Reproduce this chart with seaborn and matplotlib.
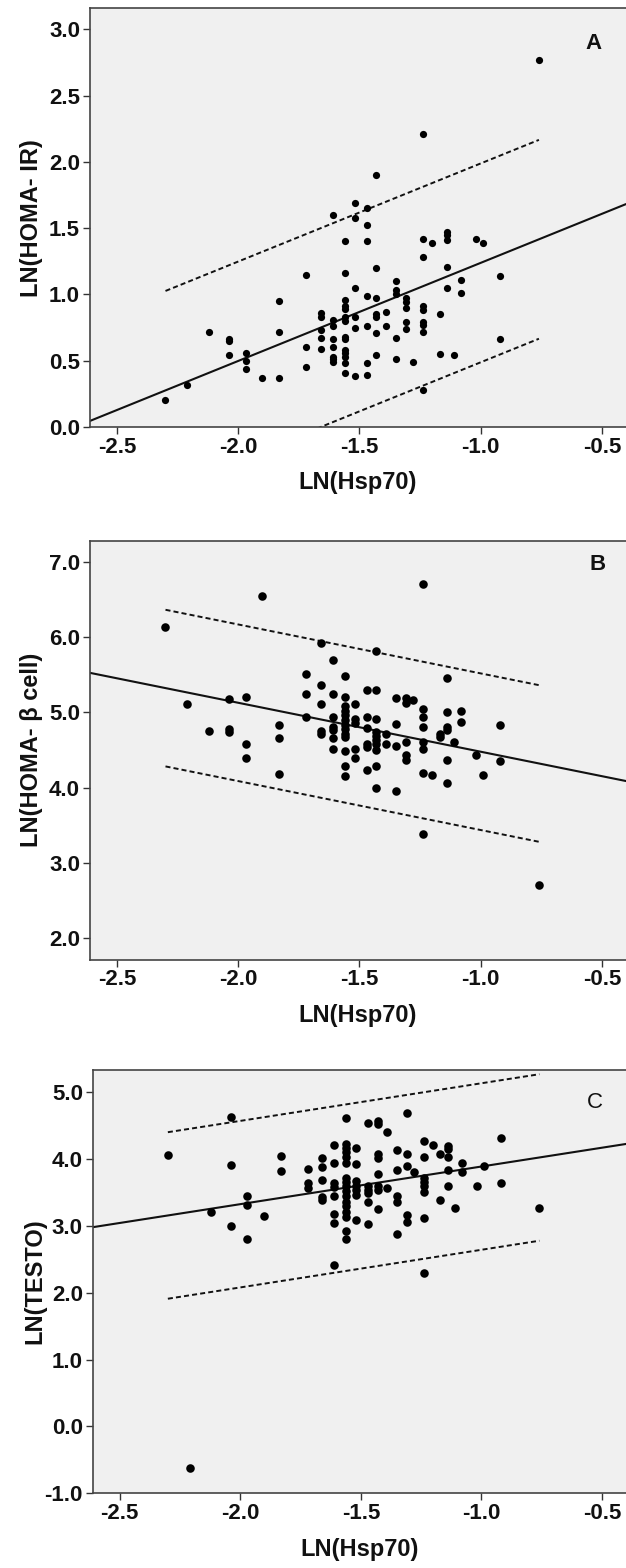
"""Scatter plots of LN(Hsp70) against HOMA-IR, HOMA-beta cell and testosterone"""

import pandas as pd
import seaborn as sns
import matplotlib

matplotlib.use("Agg")
import matplotlib.pyplot as plt

sns.set_theme(style="ticks")
plt.rcParams["font.family"] = ["Liberation Sans", "DejaVu Sans"]
plt.rcParams["axes.unicode_minus"] = False

# LN(Hsp70) values (the x values are discrete)
hsp70_levels = [-2.30, -2.21, -2.12, -2.04, -1.97, -1.90, -1.83, -1.72, -1.66, -1.61,
                -1.56, -1.52, -1.47, -1.43, -1.39, -1.35, -1.31, -1.28, -1.24, -1.20,
                -1.17, -1.14, -1.11, -1.08, -1.02, -0.99, -0.92, -0.76]

# y values found at each Hsp70 level
homa_ir = [
    [0.20], [0.32], [0.72], [0.66, 0.645, 0.54], [0.56, 0.50, 0.44], [0.37],
    [0.95, 0.72, 0.37], [1.15, 0.60, 0.45], [0.86, 0.83, 0.73, 0.67, 0.59],
    [1.60, 0.81, 0.76, 0.66, 0.60, 0.53, 0.51, 0.49],
    [1.40, 1.16, 0.96, 0.91, 0.89, 0.83, 0.80, 0.68, 0.66, 0.58, 0.56, 0.53, 0.48, 0.41],
    [1.69, 1.58, 1.05, 0.83, 0.75, 0.385], [1.65, 1.52, 1.40, 0.99, 0.76, 0.485, 0.39],
    [1.90, 1.20, 0.97, 0.85, 0.83, 0.71, 0.54], [0.87, 0.76], [1.10, 1.03, 1.00, 0.67, 0.51],
    [0.97, 0.945, 0.895, 0.79, 0.74], [0.49],
    [2.21, 1.42, 1.28, 0.915, 0.88, 0.79, 0.77, 0.72, 0.28], [1.39], [0.85, 0.55],
    [1.47, 1.45, 1.41, 1.21, 1.05], [0.54], [1.11, 1.01], [1.42], [1.39], [1.14, 0.66], [2.77],
]

homa_beta = [
    [6.13], [5.11], [4.76], [5.18, 4.78, 4.74], [5.20, 4.58, 4.39], [6.55],
    [4.83, 4.66, 4.18], [5.51, 5.25, 4.94], [5.92, 5.36, 5.11, 4.76, 4.72],
    [5.70, 5.25, 4.94, 4.81, 4.77, 4.66, 4.51],
    [5.49, 5.21, 5.08, 5.02, 4.96, 4.90, 4.84, 4.78, 4.72, 4.68, 4.49, 4.29, 4.15],
    [5.11, 4.91, 4.86, 4.52, 4.39], [5.30, 4.94, 4.79, 4.58, 4.54, 4.24],
    [5.82, 5.30, 4.91, 4.74, 4.69, 4.64, 4.58, 4.50, 4.29, 4.00], [4.71, 4.58],
    [5.19, 4.85, 4.56, 3.96], [5.19, 5.13, 4.61, 4.44, 4.37], [5.17],
    [6.70, 5.04, 4.94, 4.81, 4.61, 4.52, 4.19, 3.39], [4.17], [4.71, 4.68],
    [5.46, 5.01, 4.81, 4.77, 4.37, 4.06], [4.61], [5.02, 4.88], [4.43], [4.17],
    [4.83, 4.35], [2.71],
]

testo = [
    [4.06], [-0.62], [3.20], [4.62, 3.91, 3.00], [3.45, 3.31, 2.80], [3.15], [4.05, 3.82],
    [3.85, 3.64, 3.56], [4.01, 3.88, 3.69, 3.43, 3.39],
    [4.21, 3.94, 3.64, 3.58, 3.44, 3.17, 3.04, 2.41],
    [4.61, 4.23, 4.17, 4.10, 4.03, 3.94, 3.71, 3.65, 3.59, 3.52, 3.44, 3.36, 3.29, 3.21,
     3.13, 2.93, 2.80],
    [4.17, 3.92, 3.67, 3.60, 3.54, 3.46, 3.09], [4.54, 3.59, 3.54, 3.49, 3.36, 3.03],
    [4.57, 4.52, 4.07, 4.02, 3.78, 3.60, 3.53, 3.25], [4.41, 3.56],
    [4.13, 3.84, 3.45, 3.35, 2.88], [4.68, 4.07, 3.89, 3.16, 3.05], [3.80],
    [4.27, 4.03, 3.71, 3.65, 3.59, 3.51, 3.12, 2.30], [4.21], [4.07, 3.39],
    [4.20, 4.15, 4.03, 3.84, 3.59], [3.26], [3.94, 3.81], [3.59], [3.89], [4.32, 3.64], [3.26],
]

# fit line (intercept, slope) and half width of the dashed interval
fit_ir = (1.978, 0.740, 0.75)
fit_beta = (3.829, -0.650, 1.04)
fit_testo = (4.45, 0.563, 1.245)

x_ticks = [-2.5, -2.0, -1.5, -1.0, -0.5]
x_range = (-2.612, -0.401)


def to_frame(levels, groups):
    rows = [(x, y) for x, ys in zip(levels, groups) for y in ys]
    return pd.DataFrame(rows, columns=["LN(Hsp70)", "value"])


def draw_panel(ax, groups, fit, ylim, yticks, ylabel, letter, letter_xy, letter_weight, dot):
    data = to_frame(hsp70_levels, groups)
    ax.set_facecolor("#f0f0f0")

    b0, b1, half = fit
    xs = [x_range[0], x_range[1]]
    ax.plot(xs, [b0 + b1 * x for x in xs], color="#111111", lw=1.5, zorder=2)
    xd = [min(hsp70_levels), max(hsp70_levels)]
    for sign in (1, -1):
        ax.plot(xd, [b0 + b1 * x + sign * half for x in xd], color="#111111", lw=1.4,
                linestyle=(0, (2.6, 1.6)), zorder=2)

    sns.scatterplot(data=data, x="LN(Hsp70)", y="value", color="black", s=dot,
                    linewidth=0, ax=ax, zorder=3)

    ax.set_xlim(*x_range)
    ax.set_ylim(*ylim)
    ax.set_xticks(x_ticks)
    ax.set_xticklabels([f"{v:.1f}" for v in x_ticks])
    ax.set_yticks(yticks)
    ax.set_yticklabels([f"{v:.1f}" for v in yticks])
    ax.tick_params(length=5, width=1.0, color="#333333", labelsize=16, pad=2)
    for lab in ax.get_xticklabels() + ax.get_yticklabels():
        lab.set_fontweight("bold")
        lab.set_color("#111111")

    ax.set_xlabel("LN(Hsp70)", fontsize=17, fontweight="bold", color="#111111")
    ax.set_ylabel(ylabel, fontsize=17, fontweight="bold", color="#111111")
    ax.xaxis.set_label_coords(0.5, -0.105)
    ax.yaxis.set_label_coords(-0.087, 0.5)

    for side in ("left", "bottom", "top"):
        ax.spines[side].set_color("#444444")
        ax.spines[side].set_linewidth(1.2)
    ax.spines["right"].set_visible(False)

    ax.text(letter_xy[0], letter_xy[1], letter, transform=ax.transAxes, fontsize=16,
            fontweight=letter_weight, ha="center", va="center", color="#111111")


fig = plt.figure(figsize=(6.26, 15.68), dpi=100)
ax_a = fig.add_axes([0.1435, 0.7277, 0.8565, 0.2670])
ax_b = fig.add_axes([0.1435, 0.3879, 0.8565, 0.2672])
ax_c = fig.add_axes([0.1479, 0.0476, 0.8521, 0.2700])

draw_panel(ax_a, homa_ir, fit_ir, (0.0, 3.158), [0.0, 0.5, 1.0, 1.5, 2.0, 2.5, 3.0],
           "LN(HOMA- IR)", "A", (0.94, 0.916), "bold", 27)
draw_panel(ax_b, homa_beta, fit_beta, (1.716, 7.28), [2.0, 3.0, 4.0, 5.0, 6.0, 7.0],
           "LN(HOMA- β cell)", "B", (0.947, 0.944), "bold", 38)
draw_panel(ax_c, testo, fit_testo, (-1.0, 5.33), [-1.0, 0.0, 1.0, 2.0, 3.0, 4.0, 5.0],
           "LN(TESTO)", "C", (0.9415, 0.923), "normal", 38)

fig.savefig("out.png", dpi=100)
